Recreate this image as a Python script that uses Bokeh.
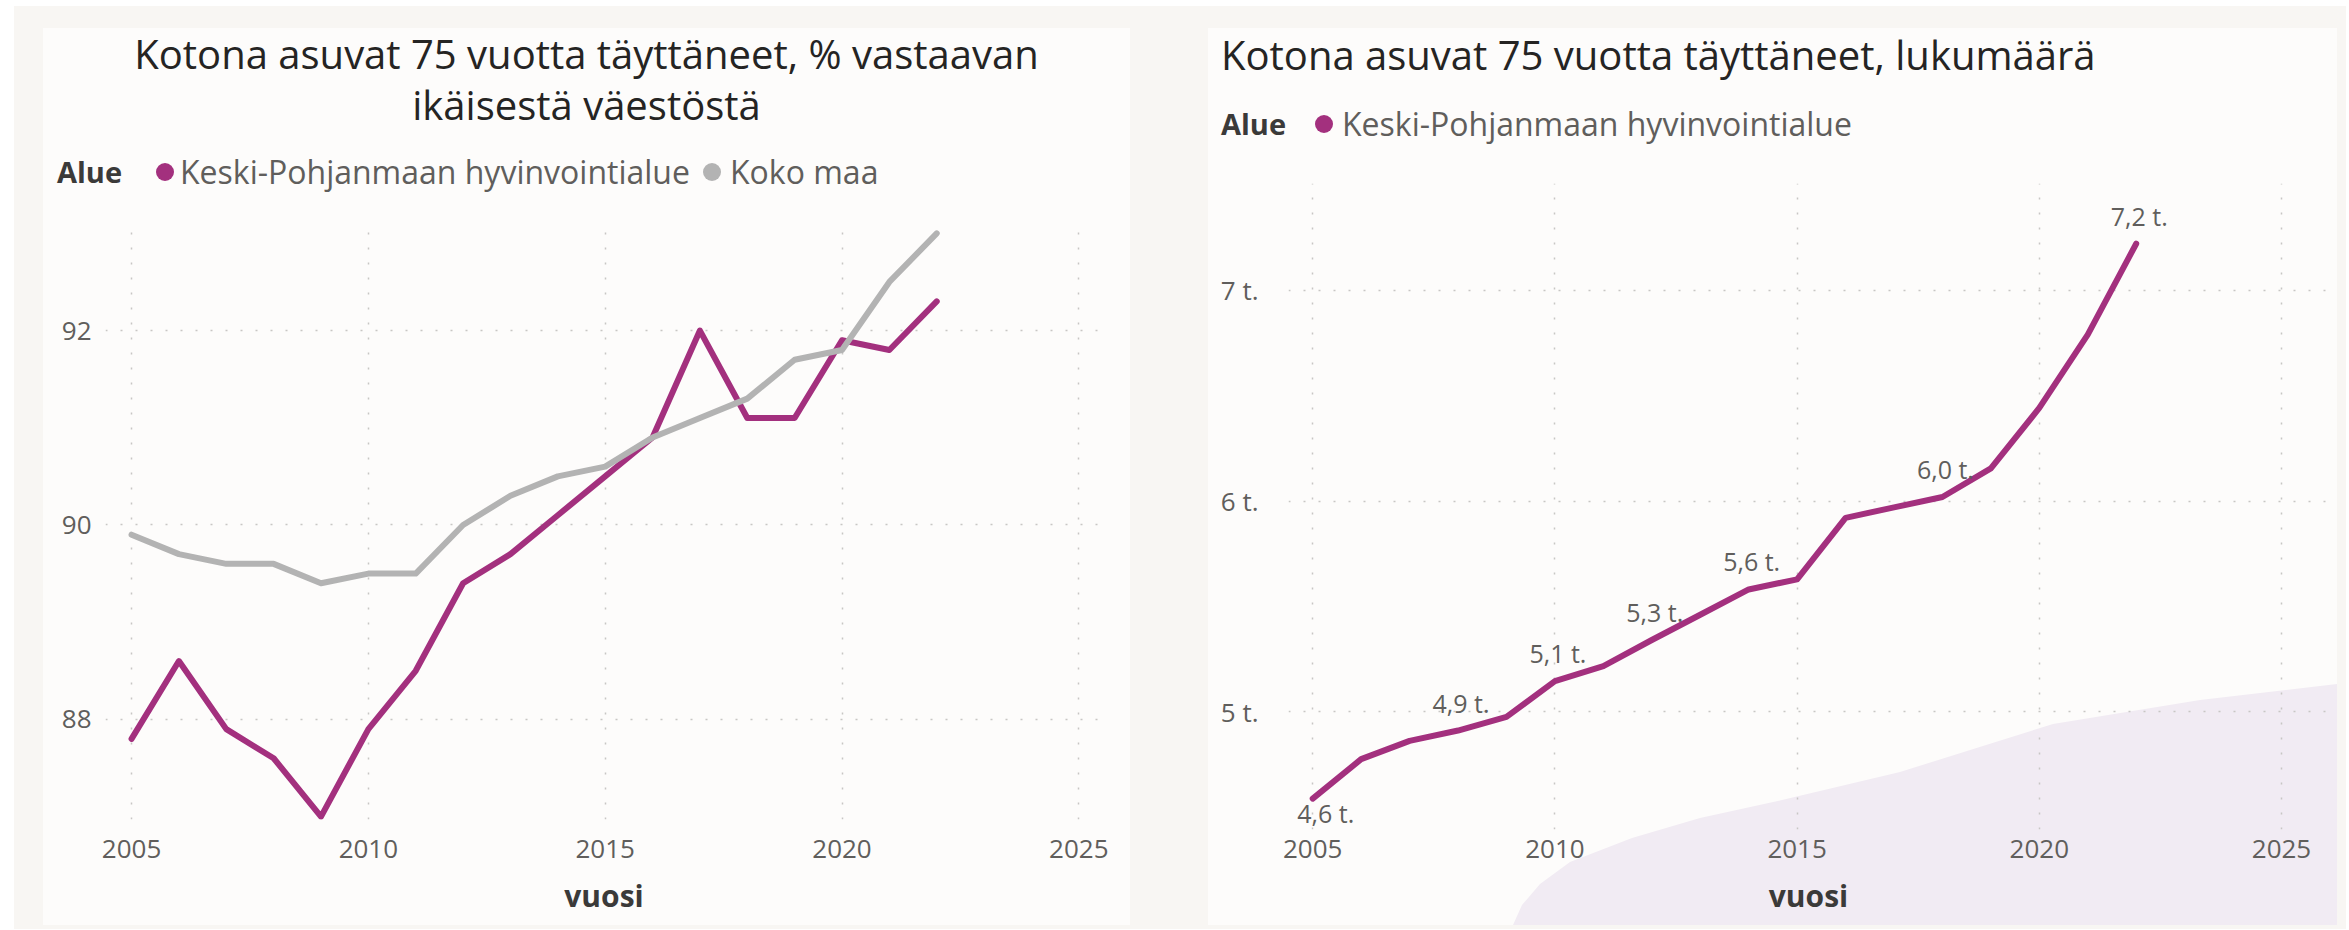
from urllib.parse import quote
from bokeh.plotting import figure
from bokeh.models import (ColumnDataSource, FixedTicker, Div, Spacer, LabelSet, Range1d)
from bokeh.layouts import row, column
from bokeh.core.properties import value
from bokeh.embed import file_html
from bokeh.resources import INLINE

# ---------------- data ----------------
years = list(range(2005, 2023))
pct_keski = [87.8, 88.6, 87.9, 87.6, 87.0, 87.9, 88.5, 89.4, 89.7, 90.1,
             90.5, 90.9, 92.0, 91.1, 91.1, 91.9, 91.8, 92.3]
pct_koko = [89.9, 89.7, 89.6, 89.6, 89.4, 89.5, 89.5, 90.0, 90.3, 90.5,
            90.6, 90.9, 91.1, 91.3, 91.7, 91.8, 92.5, 93.0]
count_keski = [4587, 4774, 4861, 4910, 4975, 5145, 5216, 5340, 5460, 5580,
               5628, 5920, 5970, 6019, 6155, 6442, 6790, 7222]
x_ticks = [2005, 2010, 2015, 2020, 2025]
pct_ticks = [88, 90, 92]
count_ticks = [5000, 6000, 7000]
count_tick_labels = ["5 t.", "6 t.", "7 t."]
label_years_above = [2008, 2010, 2012, 2014, 2018, 2022]
label_years_below = [2005]

title_left_lines = ["Kotona asuvat 75 vuotta täyttäneet, % vastaavan", "ikäisestä väestöstä"]
title_right = "Kotona asuvat 75 vuotta täyttäneet, lukumäärä"
legend_title = "Alue"
series_names = ["Keski-Pohjanmaan hyvinvointialue", "Koko maa"]
x_title = "vuosi"

# ---------------- style ----------------
FONT = "Open Sans"
BEIGE = "#f8f6f3"
PANEL = "#fdfcfb"
MAGENTA = "#a3307e"
GREY = "#b3b3b3"
TXT_DARK = "#252423"
TXT = "#605e5c"
GRID = "#c8c6c4"
SWOOSH = "#f1ebf3"

LEFT_W, RIGHT_W, PANEL_H = 1087, 1129, 897


def fmt_t(v):
    return ("%.1f" % (v / 1000.0)).replace(".", ",") + " t."


def style_fig(p, yticks, ystandoff, xstandoff):
    p.background_fill_alpha = 0
    p.border_fill_alpha = 0
    p.outline_line_color = None
    for ax in (p.xaxis, p.yaxis):
        ax.axis_line_color = None
        ax.major_tick_line_color = None
        ax.minor_tick_line_color = None
        ax.major_label_text_font = FONT
        ax.major_label_text_font_size = "26px"
        ax.major_label_text_color = TXT
    p.xaxis.ticker = FixedTicker(ticks=x_ticks)
    p.yaxis.ticker = FixedTicker(ticks=yticks)
    p.xaxis.major_label_standoff = xstandoff
    p.yaxis.major_label_standoff = ystandoff
    p.xaxis.axis_label = x_title
    p.xaxis.axis_label_text_font = FONT
    p.xaxis.axis_label_text_font_size = "30px"
    p.xaxis.axis_label_text_font_style = "bold"
    p.xaxis.axis_label_text_color = "#3b3a39"
    p.xaxis.axis_label_standoff = 14
    for g in (p.xgrid, p.ygrid):
        g.grid_line_color = GRID
        g.grid_line_width = 1.5
        g.grid_line_dash = "2 13"


def title_div(html, w, h):
    return Div(text=html, width=w, height=h, margin=0)


def legend_div(w, items, alue_left):
    parts = ['<div style="position:relative;width:%dpx;height:48px;font-family:\'%s\';'
             'font-size:32px;line-height:48px;color:%s;white-space:nowrap;">' % (w, FONT, TXT)]
    parts.append('<span style="position:absolute;left:%dpx;top:0;font-size:29px;font-weight:bold;'
                 'color:#3b3a39;">%s</span>' % (alue_left, legend_title))
    for (cx, tx, color, name) in items:
        parts.append('<span style="position:absolute;left:%dpx;top:15px;width:18px;height:18px;'
                     'border-radius:50%%;background:%s;"></span>' % (cx, color))
        parts.append('<span style="position:absolute;left:%dpx;top:0;">%s</span>' % (tx, name))
    parts.append('</div>')
    return Div(text="".join(parts), width=w, height=48, margin=0)


# ---------------- left chart ----------------
pl = figure(width=LEFT_W, height=PANEL_H - 168, x_range=Range1d(2004.45, 2025.5),
            y_range=Range1d(86.97, 93.05), output_backend="svg", toolbar_location=None,
            min_border_left=62, min_border_right=28, min_border_top=32, min_border_bottom=106,
            margin=0)
style_fig(pl, pct_ticks, 8, 14)
src_l = ColumnDataSource(dict(x=years, keski=pct_keski, koko=pct_koko))
pl.line("x", "keski", source=src_l, line_color=MAGENTA, line_width=6,
        line_join="round", line_cap="round")
pl.line("x", "koko", source=src_l, line_color=GREY, line_width=6,
        line_join="round", line_cap="round")

lt_html = ('<div style="width:%dpx;text-align:center;font-family:\'%s\';font-size:40px;'
           'line-height:51px;color:%s;white-space:nowrap;">%s<br>%s</div>'
           % (LEFT_W, FONT, TXT_DARK, title_left_lines[0], title_left_lines[1]))
left_panel = column(title_div(lt_html, LEFT_W, 120),
                    legend_div(LEFT_W, [(113, 137, MAGENTA, series_names[0]),
                                        (660, 687, GREY, series_names[1])], 14),
                    pl, spacing=0, margin=0, styles={"background-color": PANEL})

# ---------------- right chart ----------------
pr = figure(width=RIGHT_W, height=PANEL_H - 120, x_range=Range1d(2004.50, 2025.97),
            y_range=Range1d(4440, 7508), output_backend="svg", toolbar_location=None,
            min_border_left=80, min_border_right=9, min_border_top=35, min_border_bottom=96,
            margin=0)
style_fig(pr, count_ticks, 24, 4)
pr.yaxis.major_label_overrides = {t: l for t, l in zip(count_ticks, count_tick_labels)}

src_r = ColumnDataSource(dict(x=years, y=count_keski))
pr.line("x", "y", source=src_r, line_color=MAGENTA, line_width=6,
        line_join="round", line_cap="round")

ab = [years.index(y) for y in label_years_above]
be = [years.index(y) for y in label_years_below]
src_ab = ColumnDataSource(dict(x=[years[i] for i in ab], y=[count_keski[i] for i in ab],
                               t=[fmt_t(count_keski[i]) for i in ab]))
src_be = ColumnDataSource(dict(x=[years[i] for i in be], y=[count_keski[i] for i in be],
                               t=[fmt_t(count_keski[i]) for i in be]))
pr.add_layout(LabelSet(x="x", y="y", text="t", source=src_ab, y_offset=28, x_offset=3,
                       text_align="center", text_baseline="middle", text_font=value(FONT),
                       text_font_size="25px", text_color=TXT))
pr.add_layout(LabelSet(x="x", y="y", text="t", source=src_be, y_offset=-14, x_offset=13,
                       text_align="center", text_baseline="middle", text_font=value(FONT),
                       text_font_size="25px", text_color=TXT))

# decorative background swoosh of the report page (panel pixels, CSS background)
swoosh_pts = [(305, 897), (314, 877), (332, 856), (362, 834), (424, 810), (492, 790),
              (574, 772), (692, 744), (845, 696), (992, 672), (1129, 656), (1129, 897)]
svg = ("<svg xmlns='http://www.w3.org/2000/svg' width='%d' height='%d'><path d='M%s Z' fill='%s'/></svg>"
       % (RIGHT_W, PANEL_H, " L".join("%d %d" % pt for pt in swoosh_pts), SWOOSH))
swoosh_css = "url(\"data:image/svg+xml," + quote(svg) + "\")"

rt_html = ('<div style="width:%dpx;padding-left:13px;font-family:\'%s\';font-size:40px;'
           'line-height:54px;color:%s;white-space:nowrap;">%s</div>'
           % (RIGHT_W - 13, FONT, TXT_DARK, title_right))
right_panel = column(title_div(rt_html, RIGHT_W, 72),
                     legend_div(RIGHT_W, [(107, 134, MAGENTA, series_names[0])], 13),
                     pr, spacing=0, margin=0,
                     styles={"background-color": PANEL, "background-image": swoosh_css,
                             "background-repeat": "no-repeat"})

# ---------------- page ----------------
beige_block = column(
    Spacer(width=2332, height=22, margin=0),
    row(Spacer(width=29, height=PANEL_H, margin=0), left_panel,
        Spacer(width=78, height=PANEL_H, margin=0), right_panel,
        Spacer(width=9, height=PANEL_H, margin=0), spacing=0, margin=0),
    Spacer(width=2332, height=4, margin=0),
    spacing=0, margin=0, styles={"background-color": BEIGE})

root = column(Spacer(width=2346, height=6, margin=0),
              row(Spacer(width=14, height=923, margin=0), beige_block, spacing=0, margin=0),
              spacing=0, margin=0)

open("out.html", "w").write(file_html(root, INLINE))
